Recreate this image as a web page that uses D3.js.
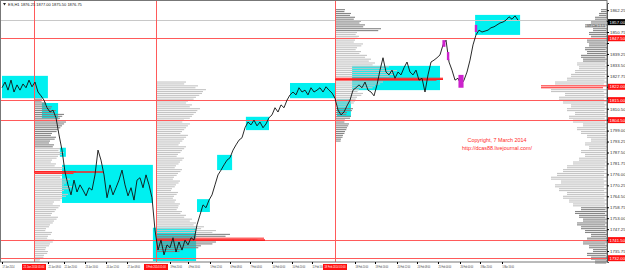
<!DOCTYPE html>
<html lang="en">
<head>
<meta charset="UTF-8">
<script src="https://d3js.org/d3.v7.min.js"></script>
<title>ES H1 profile</title>
<style>
  body { margin: 0; overflow: hidden; background: #fff; }
  text { font-family: "Liberation Sans", Arial, sans-serif; }
</style>
</head>
<body>
<script>
const width = 625, height = 276;

// closes, one per bar index (0..172)
const closes = [
  1821.5, 1824.5, 1820.25, 1825.5, 1819.25, 1823, 1820.25, 1823.5, 1821.5, 1825.5,
  1822, 1824.5, 1819.25, 1817.25, 1815, 1811, 1808.75, 1809.75, 1805.75, 1796.75,
  1788.75, 1777.25, 1770.5, 1765.25, 1773, 1766.75, 1770.5, 1767.75, 1764.75, 1769,
  1767.75, 1775.75, 1788.75, 1783.5, 1775.75, 1763.75, 1770.5, 1765.25, 1769, 1773,
  1778.25, 1770.5, 1764.75, 1769, 1762.5, 1773, 1774.25, 1769, 1775.75, 1770.5,
  1763.75, 1746.75, 1736.25, 1741.5, 1733.75, 1739, 1737.5, 1742.75, 1735.25, 1740.5,
  1736.25, 1741.5, 1739, 1742.75, 1741.5, 1749.5, 1754.75, 1760, 1758.5, 1762.5,
  1765.25, 1770.5, 1775.75, 1778.25, 1781, 1783.5, 1784.75, 1788.75, 1791.5, 1794,
  1795.25, 1800.5, 1803.5, 1802, 1804.5, 1801.5, 1803.5, 1800.5, 1802.5, 1805.75,
  1807.25, 1811, 1808.75, 1812.5, 1811, 1815, 1817.75, 1819.25, 1817.75, 1821.5,
  1819.25, 1820.25, 1817.75, 1821.5, 1819.25, 1820.25, 1821.5, 1819.25, 1822, 1820.25,
  1818.75, 1816, 1809.75, 1807.25, 1808.75, 1812, 1815, 1820.25, 1821.5, 1823,
  1821.5, 1824.5, 1820.25, 1819.25, 1817.25, 1823, 1830.75, 1837.25, 1829.75, 1828.25,
  1830.75, 1826.5, 1829.75, 1828.25, 1832, 1835, 1829.75, 1828.25, 1830.75, 1825.5,
  1826.5, 1819.25, 1828.25, 1835, 1836, 1837.25, 1838.75, 1844, 1846.5, 1835,
  1830.75, 1825.5, 1826.5, 1823, 1825.5, 1829.75, 1836, 1844, 1849.25, 1851.75,
  1850.75, 1851.25, 1851.75, 1853, 1853.5, 1854.5, 1855.5, 1856, 1857, 1858.75,
  1857.5, 1859.25, 1857
];

// cyan boxes: [startIdx, endIdx, high, low]
const boxes = [
  [0, 15.3, 1827.75, 1816],
  [13.3, 18.7, 1813.5, 1805.5],
  [19.3, 21.3, 1790, 1785.25],
  [20, 50.3, 1781, 1761],
  [50.3, 64.7, 1748, 1730.5],
  [65, 69.3, 1763, 1756.25],
  [71.7, 76.7, 1786.25, 1778.25],
  [81.3, 89, 1806.25, 1799.25],
  [96, 111, 1824, 1816],
  [111.7, 116.3, 1815.5, 1806.25],
  [116.7, 146, 1833, 1820.25],
  [157.7, 172.7, 1859.75, 1849.25]
];

// magenta bars: [idx, high, low, widthIdx]
const magenta = [
  [147.3, 1846.5, 1843, 1],
  [148.7, 1840.25, 1836, 0.8],
  [153, 1828.25, 1821.5, 1.7],
  [158, 1854.5, 1850.75, 0.8]
];

// session starts and their labels
const sessions = [10.67, 51.33, 111];
const sessionLabels = ["21 Jan 2014 01:00", "3 Feb 2014 01:00", "18 Feb 2014 01:00"];

// point of control lines: [startIdx, endIdx, price]
const pocLines = [[10.67, 33.67, 1777.25], [51.33, 87.67, 1741.5], [111, 147, 1826]];

// full width levels
const levels = [1847.5, 1815, 1804.5, 1741.5, 1732];
const rightPoc = 1822;

// profiles: counts per 2-point level, from base price upward
const prof1Base = 1731;
const prof1 = [6, 10, 14, 12, 16, 20, 14, 18, 12, 16, 20, 24, 18, 22, 26, 20, 28, 34, 30, 38,
  32, 36, 28, 42, 30, 22, 18, 24, 30, 26, 20, 16, 22, 18, 24, 28, 32, 26, 30, 22, 18, 12, 8];
const prof2Base = 1736;
const prof2 = [25, 45, 60, 108, 74, 60, 48, 40, 36, 30, 26, 22, 24, 20, 18, 22, 16, 20, 24, 18,
  22, 26, 20, 24, 28, 22, 26, 30, 24, 28, 32, 26, 30, 34, 28, 36, 40, 44, 36, 32, 40, 46, 50, 42, 30];
const prof3Base = 1794;
const prof3 = [6, 8, 10, 12, 14, 10, 16, 12, 18, 14, 20, 22, 28, 24, 40, 48, 108, 58, 62, 54,
  40, 36, 32, 26, 22, 28, 20, 24, 22, 46, 30, 26, 20, 16, 10];
const prof4Base = 1730;
const prof4 = [12, 16, 20, 14, 18, 24, 20, 16, 22, 26, 30, 24, 28, 32, 26, 34, 38, 44, 40, 48,
  52, 46, 56, 50, 44, 40, 34, 28, 22, 26, 18, 22, 16, 20, 26, 30, 24, 34, 38, 32,
  40, 36, 44, 48, 42, 56, 66, 52, 40, 36, 32, 28, 30, 24, 26, 20, 22, 18, 20, 16,
  18, 14, 22, 16, 12, 8, 6];
// light value area per profile [low, high]; outside is darker
const valueAreas = [[1731, 1790], [1745, 1826], [1812, 1851], [1760, 1835]];

// axis labels
const priceTicks = [1735.75, 1741.5, 1747.25, 1753, 1758.75, 1764.5, 1770.25, 1776, 1781.75,
  1787.5, 1793.25, 1799, 1804.75, 1810.5, 1816.25, 1822, 1827.75, 1833.5, 1839.25, 1845,
  1850.75, 1856.5, 1862.25];
const timeTickIdx = [0, 15.33, 20.67, 27.67, 34.67, 41.67, 56, 62, 69.33, 76, 82.67, 90,
  96.67, 103.33, 117.67, 124.33, 131.67, 138.33, 145.33, 152.67, 159.33, 166.67];
const timeTickLabels = ["17 Jan 2014", "22 Jan 08:00", "22 Jan 20:00", "23 Jan 16:00",
  "24 Jan 12:00", "27 Jan 08:00", "3 Feb 20:00", "4 Feb 16:00", "5 Feb 12:00", "6 Feb 08:00",
  "7 Feb 04:00", "10 Feb 00:00", "10 Feb 20:00", "11 Feb 16:00", "18 Feb 20:00",
  "19 Feb 16:00", "20 Feb 12:00", "24 Feb 08:00", "25 Feb 04:00", "26 Feb 00:00",
  "3 Mar 20:00", "5 Mar 16:00"];

const plotRight = 607, plotBottom = 262;

const svg = d3.select('body').append('svg')
  .attr('width', width).attr('height', height);

const x = d3.scaleLinear().domain([0, 172]).range([2, 518]);
const y = d3.scaleLinear().domain([1730, 1866]).range([plotBottom, 3]);
const vol = d3.scaleLinear().domain([0, 100]).range([0, 100]);

svg.append('rect').attr('x', 0).attr('y', 0).attr('width', width).attr('height', height).attr('fill', '#fff');

// cyan boxes
svg.append('g').selectAll('rect').data(boxes).join('rect')
  .attr('x', d => x(d[0])).attr('y', d => y(d[2]))
  .attr('width', d => x(d[1]) - x(d[0])).attr('height', d => y(d[3]) - y(d[2]))
  .attr('fill', '#00f0f0');

// profiles, each level drawn as two thin rows
const profiles = [
  { start: sessions[0], base: prof1Base, counts: prof1, va: valueAreas[0], dir: 1 },
  { start: sessions[1], base: prof2Base, counts: prof2, va: valueAreas[1], dir: 1 },
  { start: sessions[2], base: prof3Base, counts: prof3, va: valueAreas[2], dir: 1 },
  { start: null, base: prof4Base, counts: prof4, va: valueAreas[3], dir: -1 }
];
const step = Math.abs(y(0) - y(2));
profiles.forEach(p => {
  const maxC = d3.max(p.counts);
  const x0 = p.start === null ? plotRight : x(p.start);
  const g = svg.append('g');
  [-0.25, 0.25].forEach(off => {
    g.append('g').selectAll('rect').data(p.counts).join('rect')
      .attr('x', d => p.dir > 0 ? x0 : x0 - vol(d))
      .attr('y', (d, i) => y(p.base + i * 2) + off * step - 0.55)
      .attr('width', d => vol(d) * (off > 0 ? 0.94 : 1))
      .attr('height', 1.1)
      .attr('fill', (d, i) => {
        const pr = p.base + i * 2;
        if (d === maxC) return '#ff3030';
        return (pr >= p.va[0] && pr <= p.va[1]) ? '#c4c4c4' : '#858585';
      });
  });
});

// full width red levels
svg.append('g').selectAll('line').data(levels).join('line')
  .attr('x1', 0).attr('x2', plotRight)
  .attr('y1', d => Math.round(y(d)) + 0.5).attr('y2', d => Math.round(y(d)) + 0.5)
  .attr('stroke', '#ff5a5a').attr('stroke-width', 1);

// last price line
const last = closes[closes.length - 1];
svg.append('line').attr('x1', 0).attr('x2', plotRight)
  .attr('y1', Math.round(y(last)) + 0.5).attr('y2', Math.round(y(last)) + 0.5)
  .attr('stroke', '#c8c8c8');

// session separators
svg.append('g').selectAll('line').data(sessions).join('line')
  .attr('x1', d => Math.round(x(d)) + 0.5).attr('x2', d => Math.round(x(d)) + 0.5)
  .attr('y1', 0).attr('y2', plotBottom)
  .attr('stroke', '#ff5a5a');

// POC lines
svg.append('g').selectAll('line').data(pocLines).join('line')
  .attr('x1', d => x(d[0])).attr('x2', d => x(d[1]))
  .attr('y1', d => y(d[2])).attr('y2', d => y(d[2]))
  .attr('stroke', '#ff2020').attr('stroke-width', 1.6);

// price line
const line = d3.line().x((d, i) => x(i)).y(d => y(d));
svg.append('path').datum(closes)
  .attr('d', line).attr('fill', 'none')
  .attr('stroke', '#111').attr('stroke-width', 0.9);

// magenta bars
svg.append('g').selectAll('rect').data(magenta).join('rect')
  .attr('x', d => x(d[0]) - (x(d[3]) - x(0)) / 2)
  .attr('y', d => y(d[1]))
  .attr('width', d => x(d[3]) - x(0))
  .attr('height', d => y(d[2]) - y(d[1]))
  .attr('fill', '#cc22cc');

// frame
svg.append('rect').attr('x', 0.5).attr('y', 0.5)
  .attr('width', plotRight - 0.5).attr('height', plotBottom - 0.5)
  .attr('fill', 'none').attr('stroke', '#777');

// right price axis (labels hidden where a price tag sits)
const tagPrices = levels.concat([rightPoc, last]);
const yAxis = d3.axisRight(y).tickValues(priceTicks)
  .tickFormat(d3.format('.2f')).tickSize(2).tickPadding(1);
const yAxisG = svg.append('g').attr('transform', `translate(${plotRight},0)`).call(yAxis);
yAxisG.select('.domain').attr('stroke', '#555');
yAxisG.selectAll('text').attr('font-size', 4.3).attr('fill', '#333')
  .attr('font-family', '"Liberation Sans", Arial, sans-serif')
  .style('display', d => tagPrices.some(t => Math.abs(y(t) - y(d)) < 6) ? 'none' : null);

// red price tags
const tags = levels.concat([rightPoc]);
const tagG = svg.append('g').selectAll('g').data(tags).join('g')
  .attr('transform', d => `translate(${plotRight + 1},${y(d)})`);
tagG.append('rect').attr('x', 0).attr('y', -3).attr('width', 17).attr('height', 6).attr('fill', '#ff1010');
tagG.append('text').attr('x', 1.5).attr('y', 1.6).attr('font-size', 4.3).attr('fill', '#fff')
  .text(d => d3.format('.2f')(d));
const lastTag = svg.append('g').attr('transform', `translate(${plotRight + 1},${y(last) + 2})`);
lastTag.append('rect').attr('x', 0).attr('y', -3).attr('width', 17).attr('height', 6).attr('fill', '#000');
lastTag.append('text').attr('x', 1.5).attr('y', 1.6).attr('font-size', 4.3).attr('fill', '#fff')
  .text(d3.format('.2f')(last));

// bottom time axis: narrow labels squeezed horizontally
const xAxis = d3.axisBottom(x).tickValues(timeTickIdx)
  .tickFormat((d, i) => timeTickLabels[i]).tickSize(2).tickPadding(1);
const xAxisG = svg.append('g').attr('transform', `translate(0,${plotBottom})`).call(xAxis);
xAxisG.select('.domain').remove();
xAxisG.selectAll('text').attr('font-size', 3.6).attr('fill', '#333')
  .attr('text-anchor', 'start')
  .attr('font-family', '"Liberation Sans", Arial, sans-serif')
  .attr('transform', 'scale(0.6,1)');

const sesG = svg.append('g').selectAll('g').data(sessions).join('g')
  .attr('transform', d => `translate(${x(d)},${plotBottom + 2})`);
sesG.append('rect').attr('x', -12).attr('y', 0).attr('width', 24).attr('height', 6).attr('fill', '#ff1010');
sesG.append('text').attr('x', 0).attr('y', 4.5).attr('text-anchor', 'middle')
  .attr('font-size', 3.6).attr('fill', '#fff')
  .attr('transform', 'scale(0.7,1)')
  .text((d, i) => sessionLabels[i]);

// header
svg.append('path').attr('d', 'M3,3 L6,3 L4.5,5.5 Z').attr('fill', '#222');
svg.append('text').attr('x', 8).attr('y', 6).attr('font-size', 4).attr('fill', '#222')
  .text('ES,H1  1876.25 1877.00 1875.50 1876.75');

svg.append('text').attr('x', 587).attr('y', 27).attr('font-size', 3.2).attr('fill', '#555')
  .text('VP Cbt 1 7.5');

// copyright note
svg.append('text').attr('x', 497).attr('y', 142).attr('text-anchor', 'middle')
  .attr('font-size', 5.4).attr('fill', '#ff2a2a').text('Copyright, 7 March 2014');
svg.append('text').attr('x', 497).attr('y', 149.5).attr('text-anchor', 'middle')
  .attr('font-size', 5.4).attr('fill', '#ff2a2a').text('http://dcas88.livejournal.com/');
</script>
</body>
</html>
